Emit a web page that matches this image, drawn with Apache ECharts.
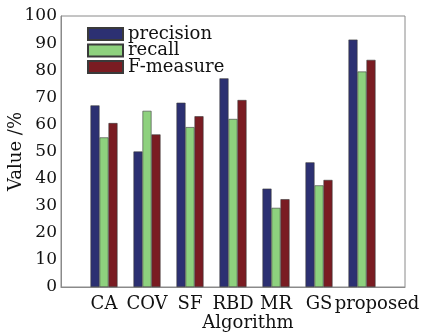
<!DOCTYPE html>
<html>
<head>
<meta charset="utf-8">
<script src="https://cdn.jsdelivr.net/npm/echarts@6/dist/echarts.min.js"></script>
<style>
  html, body { margin: 0; padding: 0; background: #fff; }
  #chart { width: 422px; height: 336px; }
</style>
</head>
<body>
<div id="chart"></div>
<script>
const categories = ['CA', 'COV', 'SF', 'RBD', 'MR', 'GS', 'proposed'];
const precision = [67, 50, 68, 77, 36.3, 46, 91.3];
const recall = [55.2, 65, 59, 62, 29.2, 37.5, 79.5];
const fMeasure = [60.5, 56.3, 63, 69, 32.4, 39.5, 83.8];
const yTicks = [0, 10, 20, 30, 40, 50, 60, 70, 80, 90, 100];

const font = 'DejaVu Serif';
const axisCats = [''].concat(categories, ['']);
const pad = arr => [null].concat(arr, [null]);

const chart = echarts.init(document.getElementById('chart'), null, { renderer: 'canvas' });
const barStyle = c => ({ color: c, borderColor: '#3a3a3a', borderWidth: 0.6 });
chart.setOption({
  animation: false,
  backgroundColor: '#fff',
  textStyle: { fontFamily: font, color: '#111' },
  grid: { left: 61, right: 17, top: 16, bottom: 49, show: true, borderColor: '#8a8a8a', borderWidth: 1,
          containLabel: false, outerBoundsMode: 'none' },
  legend: {
    orient: 'vertical', left: 87, top: 25, padding: 0,
    icon: 'rect',
    itemWidth: 35, itemHeight: 12, itemGap: -1.5,
    textStyle: { fontFamily: font, fontSize: 18, color: '#111' },
    data: ['precision', 'recall', 'F-measure']
  },
  xAxis: {
    type: 'category', data: axisCats, boundaryGap: false,
    axisLine: { lineStyle: { color: '#8a8a8a', width: 1 } },
    axisTick: { show: false },
    axisLabel: {
      fontFamily: font, fontSize: 18, color: '#111', margin: 8, interval: 0,
      formatter: v => v === 'proposed' ? '{p|' + v + '}' : v,
      rich: { p: { fontFamily: font, fontSize: 18, color: '#111', padding: [0, 0, 0, 30] } }
    },
    name: 'Algorithm', nameLocation: 'middle', nameGap: 27, nameMoveOverlap: false,
    nameTextStyle: { fontFamily: font, fontSize: 18, color: '#111', padding: [0, 0, 0, 30] }
  },
  yAxis: {
    type: 'value', min: yTicks[0], max: yTicks[yTicks.length - 1], interval: 10,
    axisLine: { show: true, lineStyle: { color: '#8a8a8a', width: 1 } },
    axisTick: { show: false },
    splitLine: { show: false },
    axisLabel: { fontFamily: font, fontSize: 17, color: '#111', margin: 4 },
    name: 'Value /%', nameLocation: 'middle', nameGap: 36, nameMoveOverlap: false,
    nameTextStyle: { fontFamily: font, fontSize: 18, color: '#111' }
  },
  series: [
    { name: 'precision', type: 'bar', data: pad(precision), barWidth: 9, barGap: '0%', itemStyle: barStyle('#2c3072') },
    { name: 'recall', type: 'bar', data: pad(recall), barWidth: 9, barGap: '0%', itemStyle: barStyle('#8ed17e') },
    { name: 'F-measure', type: 'bar', data: pad(fMeasure), barWidth: 9, barGap: '0%', itemStyle: barStyle('#7a1c22') }
  ]
});
</script>
</body>
</html>
